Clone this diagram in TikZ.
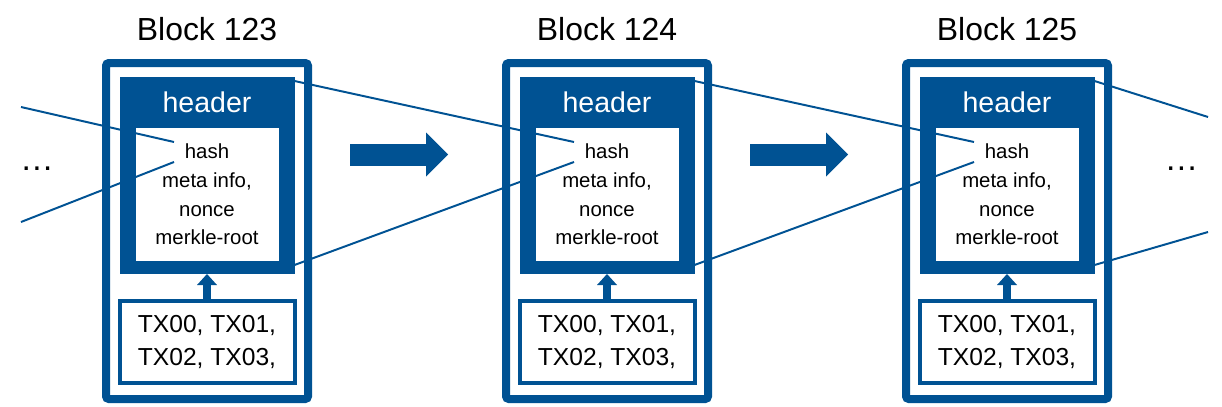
\documentclass[tikz,border=0pt]{standalone}
\usepackage{fontspec}
\setmainfont{Liberation Sans}
\usetikzlibrary{arrows.meta}

\definecolor{chainblue}{RGB}{0,82,147}

\begin{document}
\begin{tikzpicture}[font=\fontsize{14.5}{20.3}\selectfont,
    blockframe/.style={draw=chainblue, line width=0.2cm, rounded corners=2pt,
      minimum width=5.05cm, minimum height=8.4cm, outer sep=0pt},
    headbox/.style={fill=chainblue, minimum width=4.375cm, minimum height=4.925cm,
      outer sep=0pt},
    fieldbox/.style={fill=white, minimum width=3.575cm, minimum height=3.325cm,
      align=center, inner sep=0pt, outer sep=0pt},
    txbox/.style={draw=chainblue, fill=white, line width=0.1cm, minimum width=4.375cm,
      minimum height=2.05cm, align=center, outer sep=0pt,
      font=\fontsize{17.5}{22.9}\selectfont},
    blocktitle/.style={anchor=base, font=\fontsize{22.7}{27}\selectfont},
    headlabel/.style={anchor=base, text=white, font=\fontsize{20.3}{24}\selectfont},
    dotslabel/.style={anchor=base, font=\fontsize{24}{28}\selectfont},
    hashlink/.style={chainblue, line width=1.4pt},
    feed/.style={chainblue, line width=0.22cm,
      -{Triangle[length=0.275cm, width=0.5cm, line width=0pt]}},
    chainarrow/.style={chainblue, line width=0.55cm,
      -{Triangle[length=0.55cm, width=1.1cm, line width=0pt]}}]
    \useasboundingbox (0,0) rectangle (30.55,10.15);
    % block 123
    \node[blocktitle] (t1) at (5.175,9.15) {Block 123};
    \node[blockframe] (f1) at (5.175,4.375) {};
    \node[headbox] (hd1) at (5.175,5.7625) {};
    \node[headlabel] (hl1) at (5.175,7.33) {header};
    \node[fieldbox] (c1) at (5.175,5.2875) {hash\\meta info,\\nonce\\merkle-root};
    \node[txbox] (tx1) at (5.175,1.6) {TX00, TX01,\\TX02, TX03,};
    \draw[feed] (tx1.north) -- (hd1.south);
    % block 124
    \node[blocktitle] (t2) at (15.175,9.15) {Block 124};
    \node[blockframe] (f2) at (15.175,4.375) {};
    \node[headbox] (hd2) at (15.175,5.7625) {};
    \node[headlabel] (hl2) at (15.175,7.33) {header};
    \node[fieldbox] (c2) at (15.175,5.2875) {hash\\meta info,\\nonce\\merkle-root};
    \node[txbox] (tx2) at (15.175,1.6) {TX00, TX01,\\TX02, TX03,};
    \draw[feed] (tx2.north) -- (hd2.south);
    % block 125
    \node[blocktitle] (t3) at (25.175,9.15) {Block 125};
    \node[blockframe] (f3) at (25.175,4.375) {};
    \node[headbox] (hd3) at (25.175,5.7625) {};
    \node[headlabel] (hl3) at (25.175,7.33) {header};
    \node[fieldbox] (c3) at (25.175,5.2875) {hash\\meta info,\\nonce\\merkle-root};
    \node[txbox] (tx3) at (25.175,1.6) {TX00, TX01,\\TX02, TX03,};
    \draw[feed] (tx3.north) -- (hd3.south);
    % chain arrows
    \draw[chainarrow] ([xshift=1.05cm, yshift=1.9125cm] f1.east)
      -- ([xshift=-1.45cm, yshift=1.9125cm] f2.west);
    \draw[chainarrow] ([xshift=1.05cm, yshift=1.9125cm] f2.east)
      -- ([xshift=-1.45cm, yshift=1.9125cm] f3.west);
    % hash links
    \coordinate (inA) at (0.525,7.475);
    \coordinate (inB) at (0.525,4.6);
    \coordinate (outA) at (30.2,7.225);
    \coordinate (outB) at (30.2,4.35);
    \draw[hashlink] (inA) -- ([xshift=-0.825cm, yshift=-0.35cm] c1.north);
    \draw[hashlink] (inB) -- ([xshift=-0.825cm, yshift=-0.85cm] c1.north);
    \draw[hashlink] ([yshift=-0.1cm] hd1.north east)
      -- ([xshift=-0.825cm, yshift=-0.35cm] c2.north);
    \draw[hashlink] ([yshift=0.225cm] hd1.south east)
      -- ([xshift=-0.825cm, yshift=-0.85cm] c2.north);
    \draw[hashlink] ([yshift=-0.1cm] hd2.north east)
      -- ([xshift=-0.825cm, yshift=-0.35cm] c3.north);
    \draw[hashlink] ([yshift=0.225cm] hd2.south east)
      -- ([xshift=-0.825cm, yshift=-0.85cm] c3.north);
    \draw[hashlink] ([yshift=-0.1cm] hd3.north east) -- (outA);
    \draw[hashlink] ([yshift=0.225cm] hd3.south east) -- (outB);
    \node[dotslabel] (dl) at (0.925,5.9) {\textellipsis};
    \node[dotslabel] (dr) at (29.54,5.9) {\textellipsis};
  \end{tikzpicture}
\end{document}
